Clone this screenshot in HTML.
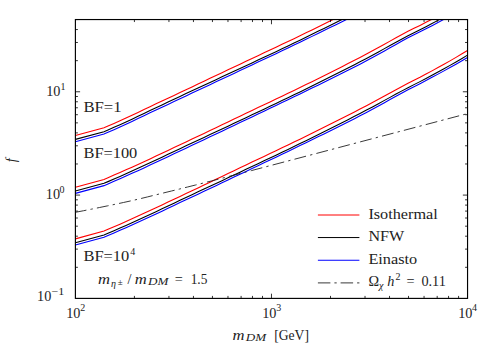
<!DOCTYPE html>
<html><head><meta charset="utf-8"><title>f vs m_DM</title>
<style>html,body{margin:0;padding:0;background:#fff;}svg{display:block;font-family:"Liberation Serif",serif;}</style></head><body>
<svg width="496" height="348" viewBox="0 0 496 348">
<rect width="496" height="348" fill="#fff"/>
<defs><clipPath id="c"><rect x="75.4" y="19.55" width="392.15" height="278.85"/></clipPath></defs>
<g clip-path="url(#c)" fill="none" stroke-width="1.1">
<path d="M75.40,135.53 L104.00,127.78 L108.00,126.06 L114.00,123.45 L120.00,120.82 L126.00,118.12 L132.00,115.29 L138.00,112.42 L144.00,109.53 L150.00,106.66 L156.00,103.86 L162.00,101.05 L168.00,98.23 L174.00,95.39 L180.00,92.55 L186.00,89.71 L192.00,86.88 L198.00,84.04 L204.00,81.21 L210.00,78.37 L216.00,75.53 L222.00,72.69 L228.00,69.85 L234.00,67.00 L240.00,64.16 L246.00,61.32 L252.00,58.48 L258.00,55.66 L264.00,52.84 L270.00,50.03 L276.00,47.20 L282.00,44.36 L288.00,41.51 L294.00,38.64 L300.00,35.76 L306.00,32.84 L312.00,29.91 L318.00,26.96 L324.00,24.00 L330.00,21.02 L336.00,18.02 L342.00,14.99 L348.00,11.94 L354.00,8.86 L360.00,5.76 L366.00,2.64 L372.00,-0.55 L378.00,-3.80 L384.00,-7.07 L390.00,-10.36 L396.00,-13.63 L402.00,-16.86 L408.00,-20.03 L414.00,-23.09 L420.00,-26.08 L426.00,-29.24 L432.00,-32.45 L438.00,-35.72 L444.00,-39.06 L450.00,-42.46 L456.00,-45.93 L462.00,-49.48 L467.50,-52.82" stroke="#ff0000"/>
<path d="M75.40,139.38 L104.00,131.68 L108.00,129.96 L114.00,127.35 L120.00,124.72 L126.00,122.02 L132.00,119.19 L138.00,116.32 L144.00,113.43 L150.00,110.55 L156.00,107.74 L162.00,104.92 L168.00,102.09 L174.00,99.26 L180.00,96.42 L186.00,93.60 L192.00,90.79 L198.00,87.98 L204.00,85.20 L210.00,82.43 L216.00,79.65 L222.00,76.87 L228.00,74.09 L234.00,71.31 L240.00,68.51 L246.00,65.71 L252.00,62.90 L258.00,60.09 L264.00,57.28 L270.00,54.46 L276.00,51.63 L282.00,48.78 L288.00,45.93 L294.00,43.05 L300.00,40.16 L306.00,37.24 L312.00,34.31 L318.00,31.36 L324.00,28.40 L330.00,25.42 L336.00,22.42 L342.00,19.39 L348.00,16.34 L354.00,13.26 L360.00,10.16 L366.00,7.04 L372.00,3.85 L378.00,0.60 L384.00,-2.67 L390.00,-5.96 L396.00,-9.23 L402.00,-12.46 L408.00,-15.63 L414.00,-18.69 L420.00,-21.68 L426.00,-24.83 L432.00,-28.03 L438.00,-31.28 L444.00,-34.58 L450.00,-37.95 L456.00,-41.38 L462.00,-44.89 L467.50,-48.17" stroke="#000"/>
<path d="M75.40,141.73 L104.00,133.98 L108.00,132.26 L114.00,129.65 L120.00,127.02 L126.00,124.32 L132.00,121.49 L138.00,118.62 L144.00,115.73 L150.00,112.85 L156.00,110.05 L162.00,107.24 L168.00,104.41 L174.00,101.57 L180.00,98.74 L186.00,95.91 L192.00,93.08 L198.00,90.26 L204.00,87.45 L210.00,84.65 L216.00,81.84 L222.00,79.03 L228.00,76.22 L234.00,73.41 L240.00,70.59 L246.00,67.76 L252.00,64.94 L258.00,62.12 L264.00,59.30 L270.00,56.48 L276.00,53.64 L282.00,50.80 L288.00,47.95 L294.00,45.08 L300.00,42.20 L306.00,39.29 L312.00,36.38 L318.00,33.46 L324.00,30.54 L330.00,27.60 L336.00,24.65 L342.00,21.66 L348.00,18.64 L354.00,15.59 L360.00,12.51 L366.00,9.38 L372.00,6.18 L378.00,2.91 L384.00,-0.40 L390.00,-3.73 L396.00,-7.04 L402.00,-10.31 L408.00,-13.52 L414.00,-16.61 L420.00,-19.63 L426.00,-22.77 L432.00,-25.96 L438.00,-29.18 L444.00,-32.44 L450.00,-35.75 L456.00,-39.11 L462.00,-42.53 L467.50,-45.72" stroke="#0000ff"/>
<path d="M75.40,187.19 L104.00,179.44 L108.00,177.72 L114.00,175.11 L120.00,172.48 L126.00,169.83 L132.00,167.15 L138.00,164.43 L144.00,161.69 L150.00,158.91 L156.00,156.12 L162.00,153.30 L168.00,150.47 L174.00,147.62 L180.00,144.78 L186.00,141.93 L192.00,139.09 L198.00,136.25 L204.00,133.39 L210.00,130.53 L216.00,127.66 L222.00,124.79 L228.00,121.92 L234.00,119.04 L240.00,116.17 L246.00,113.30 L252.00,110.43 L258.00,107.58 L264.00,104.73 L270.00,101.88 L276.00,99.04 L282.00,96.18 L288.00,93.31 L294.00,90.43 L300.00,87.52 L306.00,84.59 L312.00,81.64 L318.00,78.67 L324.00,75.69 L330.00,72.70 L336.00,69.68 L342.00,66.65 L348.00,63.60 L354.00,60.52 L360.00,57.42 L366.00,54.29 L372.00,51.09 L378.00,47.80 L384.00,44.48 L390.00,41.14 L396.00,37.83 L402.00,34.55 L408.00,31.33 L414.00,28.34 L420.00,25.41 L426.00,22.32 L432.00,19.17 L438.00,15.93 L444.00,12.60 L450.00,9.20 L456.00,5.73 L462.00,2.17 L467.50,-1.16" stroke="#ff0000"/>
<path d="M75.40,191.04 L104.00,183.34 L108.00,181.62 L114.00,179.01 L120.00,176.38 L126.00,173.73 L132.00,171.05 L138.00,168.33 L144.00,165.58 L150.00,162.80 L156.00,160.00 L162.00,157.17 L168.00,154.33 L174.00,151.49 L180.00,148.65 L186.00,145.82 L192.00,143.00 L198.00,140.20 L204.00,137.39 L210.00,134.59 L216.00,131.78 L222.00,128.97 L228.00,126.16 L234.00,123.35 L240.00,120.52 L246.00,117.69 L252.00,114.85 L258.00,112.01 L264.00,109.17 L270.00,106.32 L276.00,103.47 L282.00,100.61 L288.00,97.73 L294.00,94.84 L300.00,91.93 L306.00,88.99 L312.00,86.04 L318.00,83.07 L324.00,80.09 L330.00,77.10 L336.00,74.08 L342.00,71.05 L348.00,68.00 L354.00,64.92 L360.00,61.82 L366.00,58.69 L372.00,55.49 L378.00,52.20 L384.00,48.88 L390.00,45.54 L396.00,42.23 L402.00,38.95 L408.00,35.73 L414.00,32.74 L420.00,29.81 L426.00,26.73 L432.00,23.60 L438.00,20.38 L444.00,17.08 L450.00,13.71 L456.00,10.28 L462.00,6.77 L467.50,3.49" stroke="#000"/>
<path d="M75.40,193.39 L104.00,185.64 L108.00,183.92 L114.00,181.31 L120.00,178.68 L126.00,176.03 L132.00,173.35 L138.00,170.63 L144.00,167.89 L150.00,165.11 L156.00,162.31 L162.00,159.48 L168.00,156.65 L174.00,153.81 L180.00,150.97 L186.00,148.13 L192.00,145.30 L198.00,142.47 L204.00,139.64 L210.00,136.81 L216.00,133.97 L222.00,131.13 L228.00,128.29 L234.00,125.44 L240.00,122.60 L246.00,119.74 L252.00,116.89 L258.00,114.04 L264.00,111.19 L270.00,108.34 L276.00,105.49 L282.00,102.62 L288.00,99.75 L294.00,96.86 L300.00,93.96 L306.00,91.04 L312.00,88.11 L318.00,85.17 L324.00,82.23 L330.00,79.28 L336.00,76.31 L342.00,73.31 L348.00,70.30 L354.00,67.25 L360.00,64.17 L366.00,61.04 L372.00,57.82 L378.00,54.51 L384.00,51.15 L390.00,47.77 L396.00,44.41 L402.00,41.09 L408.00,37.84 L414.00,34.82 L420.00,31.86 L426.00,28.79 L432.00,25.67 L438.00,22.48 L444.00,19.22 L450.00,15.91 L456.00,12.54 L462.00,9.13 L467.50,5.94" stroke="#0000ff"/>
<path d="M75.40,238.85 L104.00,231.10 L108.00,229.37 L114.00,226.77 L120.00,224.14 L126.00,221.49 L132.00,218.80 L138.00,216.09 L144.00,213.35 L150.00,210.57 L156.00,207.77 L162.00,204.96 L168.00,202.12 L174.00,199.28 L180.00,196.44 L186.00,193.59 L192.00,190.75 L198.00,187.91 L204.00,185.05 L210.00,182.19 L216.00,179.32 L222.00,176.45 L228.00,173.58 L234.00,170.70 L240.00,167.83 L246.00,164.96 L252.00,162.09 L258.00,159.24 L264.00,156.39 L270.00,153.54 L276.00,150.69 L282.00,147.84 L288.00,144.97 L294.00,142.09 L300.00,139.18 L306.00,136.25 L312.00,133.30 L318.00,130.33 L324.00,127.35 L330.00,124.35 L336.00,121.34 L342.00,118.31 L348.00,115.25 L354.00,112.18 L360.00,109.08 L366.00,105.95 L372.00,102.76 L378.00,99.52 L384.00,96.24 L390.00,92.96 L396.00,89.69 L402.00,86.46 L408.00,83.29 L414.00,80.23 L420.00,77.24 L426.00,74.08 L432.00,70.86 L438.00,67.59 L444.00,64.26 L450.00,60.86 L456.00,57.39 L462.00,53.83 L467.50,50.50" stroke="#ff0000"/>
<path d="M75.40,242.70 L104.00,235.00 L108.00,233.27 L114.00,230.67 L120.00,228.04 L126.00,225.39 L132.00,222.70 L138.00,219.99 L144.00,217.24 L150.00,214.46 L156.00,211.65 L162.00,208.83 L168.00,205.99 L174.00,203.15 L180.00,200.31 L186.00,197.48 L192.00,194.66 L198.00,191.85 L204.00,189.05 L210.00,186.24 L216.00,183.44 L222.00,180.63 L228.00,177.82 L234.00,175.00 L240.00,172.18 L246.00,169.35 L252.00,166.51 L258.00,163.67 L264.00,160.83 L270.00,157.98 L276.00,155.13 L282.00,152.26 L288.00,149.39 L294.00,146.50 L300.00,143.58 L306.00,140.65 L312.00,137.70 L318.00,134.73 L324.00,131.75 L330.00,128.75 L336.00,125.74 L342.00,122.71 L348.00,119.65 L354.00,116.58 L360.00,113.48 L366.00,110.35 L372.00,107.16 L378.00,103.92 L384.00,100.64 L390.00,97.36 L396.00,94.09 L402.00,90.86 L408.00,87.69 L414.00,84.63 L420.00,81.63 L426.00,78.49 L432.00,75.29 L438.00,72.04 L444.00,68.74 L450.00,65.37 L456.00,61.94 L462.00,58.43 L467.50,55.15" stroke="#000"/>
<path d="M75.40,245.05 L104.00,237.30 L108.00,235.57 L114.00,232.97 L120.00,230.34 L126.00,227.69 L132.00,225.00 L138.00,222.29 L144.00,219.54 L150.00,216.77 L156.00,213.96 L162.00,211.14 L168.00,208.31 L174.00,205.47 L180.00,202.62 L186.00,199.79 L192.00,196.96 L198.00,194.13 L204.00,191.30 L210.00,188.47 L216.00,185.63 L222.00,182.79 L228.00,179.95 L234.00,177.10 L240.00,174.25 L246.00,171.40 L252.00,168.55 L258.00,165.70 L264.00,162.85 L270.00,160.00 L276.00,157.14 L282.00,154.28 L288.00,151.41 L294.00,148.52 L300.00,145.62 L306.00,142.70 L312.00,139.77 L318.00,136.83 L324.00,133.89 L330.00,130.94 L336.00,127.97 L342.00,124.97 L348.00,121.96 L354.00,118.91 L360.00,115.83 L366.00,112.70 L372.00,109.50 L378.00,106.23 L384.00,102.92 L390.00,99.59 L396.00,96.28 L402.00,93.01 L408.00,89.80 L414.00,86.71 L420.00,83.69 L426.00,80.55 L432.00,77.36 L438.00,74.14 L444.00,70.87 L450.00,67.56 L456.00,64.20 L462.00,60.79 L467.50,57.60" stroke="#0000ff"/>
<path d="M75.40,212.30 L83.40,210.75 L91.40,209.16 L99.40,207.54 L107.40,205.89 L115.40,204.22 L123.40,202.51 L131.40,200.75 L139.40,198.90 L147.40,196.94 L155.40,194.94 L163.40,192.98 L171.40,191.02 L179.40,189.05 L187.40,187.05 L195.40,185.04 L203.40,183.01 L211.40,180.96 L219.40,178.91 L227.40,176.84 L235.40,174.76 L243.40,172.68 L251.00,170.70 L251.40,170.60 L467.50,113.60" stroke="#222" stroke-width="0.9" stroke-dasharray="11.9 4.2 2.3 4.22" stroke-dashoffset="0.7"/>
</g>
<g stroke="#000" stroke-width="0.8" fill="none">
<path d="M134.42,298.40 v-2.50 M134.42,19.55 v2.50"/>
<path d="M168.95,298.40 v-2.50 M168.95,19.55 v2.50"/>
<path d="M193.45,298.40 v-2.50 M193.45,19.55 v2.50"/>
<path d="M212.45,298.40 v-2.50 M212.45,19.55 v2.50"/>
<path d="M227.98,298.40 v-2.50 M227.98,19.55 v2.50"/>
<path d="M241.10,298.40 v-2.50 M241.10,19.55 v2.50"/>
<path d="M252.47,298.40 v-2.50 M252.47,19.55 v2.50"/>
<path d="M262.50,298.40 v-2.50 M262.50,19.55 v2.50"/>
<path d="M271.48,298.40 v-4.70 M271.48,19.55 v4.70"/>
<path d="M330.50,298.40 v-2.50 M330.50,19.55 v2.50"/>
<path d="M365.03,298.40 v-2.50 M365.03,19.55 v2.50"/>
<path d="M389.52,298.40 v-2.50 M389.52,19.55 v2.50"/>
<path d="M408.53,298.40 v-2.50 M408.53,19.55 v2.50"/>
<path d="M424.05,298.40 v-2.50 M424.05,19.55 v2.50"/>
<path d="M437.18,298.40 v-2.50 M437.18,19.55 v2.50"/>
<path d="M448.55,298.40 v-2.50 M448.55,19.55 v2.50"/>
<path d="M458.58,298.40 v-2.50 M458.58,19.55 v2.50"/>
<path d="M75.40,267.30 h2.50 M467.55,267.30 h-2.50"/>
<path d="M75.40,249.11 h2.50 M467.55,249.11 h-2.50"/>
<path d="M75.40,236.20 h2.50 M467.55,236.20 h-2.50"/>
<path d="M75.40,226.18 h2.50 M467.55,226.18 h-2.50"/>
<path d="M75.40,218.00 h2.50 M467.55,218.00 h-2.50"/>
<path d="M75.40,211.09 h2.50 M467.55,211.09 h-2.50"/>
<path d="M75.40,205.10 h2.50 M467.55,205.10 h-2.50"/>
<path d="M75.40,199.81 h2.50 M467.55,199.81 h-2.50"/>
<path d="M75.40,195.08 h4.70 M467.55,195.08 h-4.70"/>
<path d="M75.40,163.98 h2.50 M467.55,163.98 h-2.50"/>
<path d="M75.40,145.79 h2.50 M467.55,145.79 h-2.50"/>
<path d="M75.40,132.88 h2.50 M467.55,132.88 h-2.50"/>
<path d="M75.40,122.87 h2.50 M467.55,122.87 h-2.50"/>
<path d="M75.40,114.69 h2.50 M467.55,114.69 h-2.50"/>
<path d="M75.40,107.77 h2.50 M467.55,107.77 h-2.50"/>
<path d="M75.40,101.78 h2.50 M467.55,101.78 h-2.50"/>
<path d="M75.40,96.49 h2.50 M467.55,96.49 h-2.50"/>
<path d="M75.40,91.77 h4.70 M467.55,91.77 h-4.70"/>
<path d="M75.40,60.66 h2.50 M467.55,60.66 h-2.50"/>
<path d="M75.40,42.47 h2.50 M467.55,42.47 h-2.50"/>
<path d="M75.40,29.56 h2.50 M467.55,29.56 h-2.50"/>
<path d="M75.40,19.55 h2.50 M467.55,19.55 h-2.50"/>
<rect x="75.4" y="19.55" width="392.15" height="278.85" stroke-width="1.15"/>
</g>
<g fill="none" stroke-width="1">
<path d="M317.9,215.0 H359.4" stroke="#ff0000"/>
<path d="M317.9,237.55 H359.4" stroke="#000"/>
<path d="M317.9,260.25 H359.4" stroke="#0000ff"/>
<path d="M317.9,282.9 H359.8" stroke="#222" stroke-width="0.9" stroke-dasharray="12.5 4 2.3 3.9"/>
</g>
<g fill="#222" stroke="none" font-family="'Liberation Serif', serif" font-size="14.25">
<text x="368.4" y="218.7" textLength="69.4" lengthAdjust="spacingAndGlyphs">Isothermal</text>
<text x="368.4" y="241.4" textLength="35.8" lengthAdjust="spacingAndGlyphs">NFW</text>
<text x="368.4" y="264.1" textLength="48.8" lengthAdjust="spacingAndGlyphs">Einasto</text>
<text x="368.4" y="286.2">Ω</text>
<text x="379" y="289.3" font-size="10" font-style="italic">χ</text>
<text x="387.2" y="286.2" font-style="italic">h</text>
<text x="395.4" y="280.1" font-size="10">2</text>
<text x="406.4" y="286.2">=</text>
<text x="421.4" y="286.2" textLength="24.5" lengthAdjust="spacingAndGlyphs">0.11</text>
<text x="83.5" y="111.9" textLength="38.1" lengthAdjust="spacingAndGlyphs">BF=1</text>
<text x="83.5" y="157.9" textLength="53.8" lengthAdjust="spacingAndGlyphs">BF=100</text>
<text x="83.5" y="260.6" textLength="45.8" lengthAdjust="spacingAndGlyphs">BF=10</text>
<text x="130.2" y="254.5" font-size="10">4</text>
<text x="97.9" y="283.8" font-style="italic" textLength="12" lengthAdjust="spacingAndGlyphs">m</text>
<text x="111" y="287" font-size="10" font-style="italic">η</text>
<text x="117.8" y="285" font-size="9">±</text>
<text x="127.6" y="283.8">/</text>
<text x="134.7" y="283.8" font-style="italic" textLength="12" lengthAdjust="spacingAndGlyphs">m</text>
<text x="148" y="285.4" font-size="10" font-style="italic" textLength="20.4" lengthAdjust="spacingAndGlyphs">DM</text>
<text x="174.8" y="283.8">=</text>
<text x="190.7" y="283.8" textLength="16.7" lengthAdjust="spacingAndGlyphs">1.5</text>
<text x="46.2" y="95.9">10</text>
<text x="60.4" y="89.85" font-size="10">1</text>
<text x="45.8" y="199.2">10</text>
<text x="59.6" y="193.3" font-size="10">0</text>
<text x="37.0" y="301.4">10</text>
<text x="51.5" y="295.35" font-size="10" textLength="12.8" lengthAdjust="spacingAndGlyphs">−1</text>
<text x="66.2" y="317.5">10</text>
<text x="80.2" y="311.45" font-size="10">2</text>
<text x="262.2" y="317.5">10</text>
<text x="276.2" y="311.45" font-size="10">3</text>
<text x="458.2" y="317.5">10</text>
<text x="471.9" y="311.45" font-size="10">4</text>
<text x="232.4" y="339.6" font-style="italic" textLength="12" lengthAdjust="spacingAndGlyphs">m</text>
<text x="245.7" y="341.2" font-size="10" font-style="italic" textLength="20.4" lengthAdjust="spacingAndGlyphs">DM</text>
<text x="274.2" y="339.6" textLength="34.8" lengthAdjust="spacingAndGlyphs">[GeV]</text>
<text transform="translate(16.4,159.2) rotate(-90)" x="-3" y="0" font-style="italic">f</text>
</g>
</svg></body></html>
